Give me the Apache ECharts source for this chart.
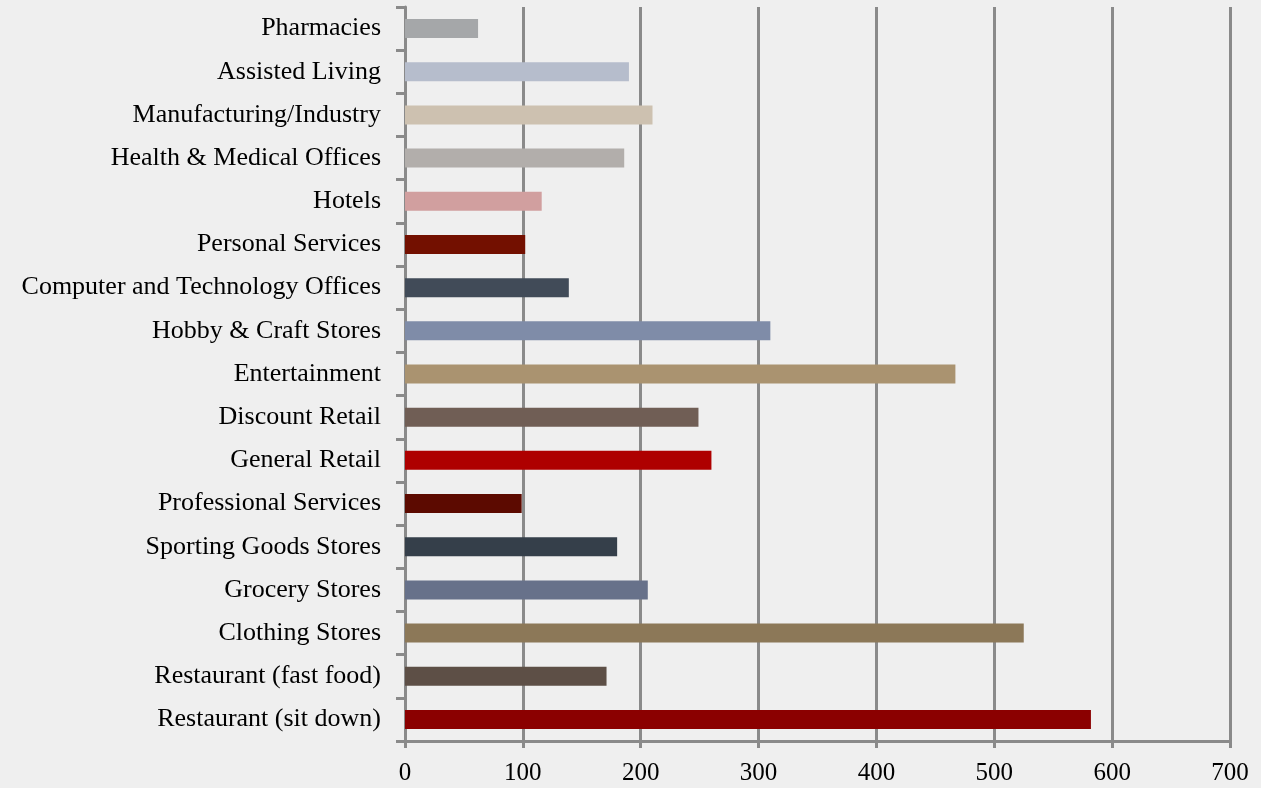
<!DOCTYPE html>
<html>
<head>
<meta charset="utf-8">
<script src="https://cdn.jsdelivr.net/npm/echarts@6/dist/echarts.min.js"></script>
<style>
  html, body { margin: 0; padding: 0; background: #efefef; }
  #chart { width: 1261px; height: 788px; }
</style>
</head>
<body>
<div id="chart"></div>
<script>
// top to bottom
var categories = [
  "Pharmacies", "Assisted Living", "Manufacturing/Industry", "Health & Medical Offices",
  "Hotels", "Personal Services", "Computer and Technology Offices", "Hobby & Craft Stores",
  "Entertainment", "Discount Retail", "General Retail", "Professional Services",
  "Sporting Goods Stores", "Grocery Stores", "Clothing Stores", "Restaurant (fast food)",
  "Restaurant (sit down)"
];
var values = [62, 190, 210, 186, 116, 102, 139, 310, 467, 249, 260, 99, 180, 206, 525, 171, 582];
var barColors = [
  "#a5a7a9", "#b6bdcc", "#cdc1b0", "#b2aeab", "#d19f9f", "#731000", "#414b58", "#7f8ca8",
  "#aa9370", "#705e55", "#ae0000", "#5c0a00", "#353f4a", "#67718a", "#8c7858", "#5d4f46",
  "#8b0000"
];

var chart = echarts.init(document.getElementById("chart"));
var axisGray = "#8a8a8a";
var option = {
  backgroundColor: "#efefef",
  animation: false,
  grid: { left: 405, right: 31, top: 7, bottom: 47, containLabel: false },
  xAxis: {
    type: "value",
    min: 0,
    max: 700,
    interval: 100,
    axisLine: { show: true, lineStyle: { color: axisGray, width: 3 } },
    axisTick: { show: true, length: 7, lineStyle: { color: axisGray, width: 3 } },
    splitLine: { show: true, lineStyle: { color: axisGray, width: 3 } },
    axisLabel: { color: "#000", fontFamily: "Liberation Serif", fontSize: 25, margin: 20 }
  },
  yAxis: {
    type: "category",
    inverse: true,
    data: categories,
    axisLine: { show: true, lineStyle: { color: axisGray, width: 3 } },
    axisTick: { show: true, length: 9, lineStyle: { color: axisGray, width: 3 } },
    axisLabel: { color: "#000", fontFamily: "Liberation Serif", fontSize: 26, margin: 24, padding: [4, 0, 0, 0] }
  },
  series: [{
    type: "bar",
    barWidth: 19,
    data: values.map(function (v, i) {
      return { value: v, itemStyle: { color: barColors[i] } };
    })
  }]
};
chart.setOption(option);
</script>
</body>
</html>
